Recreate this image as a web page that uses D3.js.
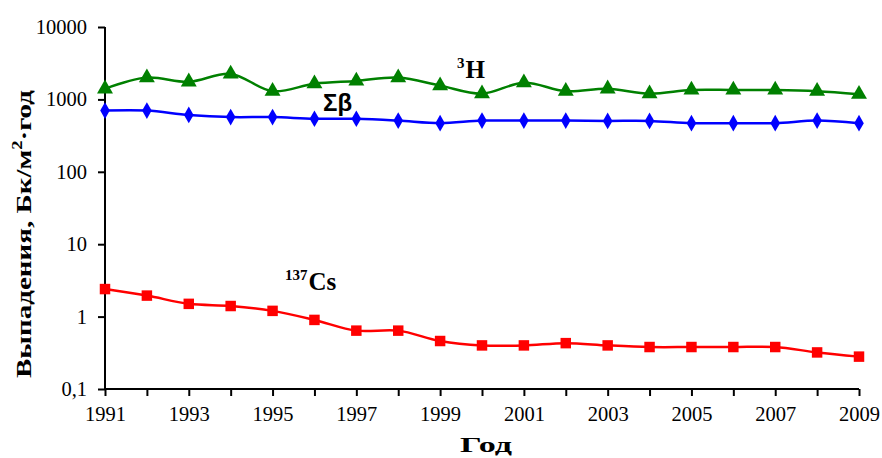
<!DOCTYPE html>
<html>
<head>
<meta charset="utf-8">
<script src="https://cdn.jsdelivr.net/npm/d3@7"></script>
<style>
  body { margin: 0; background: #fff; }
  svg text { font-family: "Liberation Serif", "Times New Roman", serif; fill: #000; }
</style>
</head>
<body>
<svg id="canvas" width="882" height="458"></svg>
<script>
var years = d3.range(1991, 2010);
var tritium = [1400, 2000, 1750, 2250, 1300, 1650, 1800, 2000, 1550, 1200, 1700, 1300, 1400, 1200, 1350, 1350, 1350, 1300, 1180];
var sumBeta = [700, 700, 610, 570, 570, 540, 540, 510, 470, 510, 510, 510, 505, 505, 470, 470, 470, 510, 470];
var cesium = [2.4, 1.95, 1.5, 1.4, 1.2, 0.9, 0.64, 0.64, 0.46, 0.4, 0.4, 0.43, 0.4, 0.38, 0.38, 0.38, 0.38, 0.32, 0.28];
var yTicks = [0.1, 1, 10, 100, 1000, 10000];
var xTickLabels = [1991, 1993, 1995, 1997, 1999, 2001, 2003, 2005, 2007, 2009];

var width = 882;
var height = 458;
var margins = { left: 105, right: 23, top: 27, bottom: 69 };

var canvas = d3.select("#canvas");

var x = d3.scaleLinear()
  .domain([1991, 2009])
  .range([margins.left, width - margins.right]);

var y = d3.scaleLog()
  .domain([0.1, 10000])
  .range([height - margins.bottom, margins.top]);

// y axis
var yAxis = canvas.append("g")
  .attr("transform", "translate(" + margins.left + ",0)")
  .call(d3.axisLeft(y)
    .tickValues(yTicks)
    .tickSize(7)
    .tickPadding(11)
    .tickFormat(function(d) { return d < 1 ? String(d).replace(".", ",") : d; }));

// x axis
var xAxis = canvas.append("g")
  .attr("transform", "translate(0," + (height - margins.bottom) + ")")
  .call(d3.axisBottom(x)
    .tickValues(years)
    .tickSize(7)
    .tickPadding(10)
    .tickFormat(function(d) { return xTickLabels.indexOf(d) >= 0 ? d : ""; }));

canvas.selectAll(".domain, .tick line")
  .attr("stroke", "#000")
  .attr("stroke-width", 2);
yAxis.select(".domain").attr("d", "M0," + y(10000) + "V" + y(0.1));
xAxis.select(".domain").attr("d", "M" + x(1991) + ",0H" + x(2009));
canvas.selectAll(".tick text")
  .style("font-family", "'Liberation Serif', 'Times New Roman', serif")
  .style("font-size", "20.5px")
  .style("font-weight", "normal");

// series
var series = [
  { data: tritium, color: "#008000", marker: d3.symbolTriangle, size: 110 },
  { data: sumBeta, color: "#0000ff", marker: d3.symbolDiamond, size: 80 },
  { data: cesium, color: "#ff0000", marker: d3.symbolSquare, size: 110 }
];

var line = d3.line()
  .x(function(d, i) { return x(years[i]); })
  .y(function(d) { return y(d); })
  .curve(d3.curveCatmullRom.alpha(0.5));

series.forEach(function(s) {
  canvas.append("path")
    .datum(s.data)
    .attr("d", line)
    .attr("fill", "none")
    .attr("stroke", s.color)
    .attr("stroke-width", 2.5);
  canvas.append("g")
    .selectAll("path")
    .data(s.data)
    .enter()
    .append("path")
    .attr("d", d3.symbol().type(s.marker).size(s.size))
    .attr("transform", function(d, i) { return "translate(" + x(years[i]) + "," + y(d) + ")"; })
    .attr("fill", s.color);
});

// series labels
var h3 = canvas.append("text")
  .attr("x", 457).attr("y", 78)
  .attr("font-weight", "bold").attr("font-size", 25);
h3.append("tspan").text("3").attr("font-size", 15).attr("dy", -10);
h3.append("tspan").text("H").attr("dy", 10).attr("dx", 1);

canvas.append("text")
  .attr("x", 323).attr("y", 111)
  .style("font-family", "'Liberation Sans', Arial, sans-serif")
  .attr("font-weight", "bold").attr("font-size", 24)
  .text("Σβ");

var cs = canvas.append("text")
  .attr("x", 285).attr("y", 290)
  .attr("font-weight", "bold").attr("font-size", 25);
cs.append("tspan").text("137").attr("font-size", 15).attr("dy", -10);
cs.append("tspan").text("Cs").attr("dy", 10).attr("dx", 1);

// axis titles
canvas.append("text")
  .attr("x", 486).attr("y", 452)
  .attr("text-anchor", "middle")
  .attr("font-weight", "bold").attr("font-size", 22)
  .attr("textLength", 52)
  .attr("lengthAdjust", "spacingAndGlyphs")
  .text("Год");

var yt = canvas.append("text")
  .attr("transform", "translate(31,234) rotate(-90)")
  .attr("text-anchor", "middle")
  .attr("font-weight", "bold").attr("font-size", 22)
  .attr("textLength", 288)
  .attr("lengthAdjust", "spacingAndGlyphs");
yt.append("tspan").text("Выпадения, Бк/м");
yt.append("tspan").text("2").attr("font-size", 14).attr("dy", -9);
yt.append("tspan").text("·год").attr("dy", 9);
</script>
</body>
</html>
